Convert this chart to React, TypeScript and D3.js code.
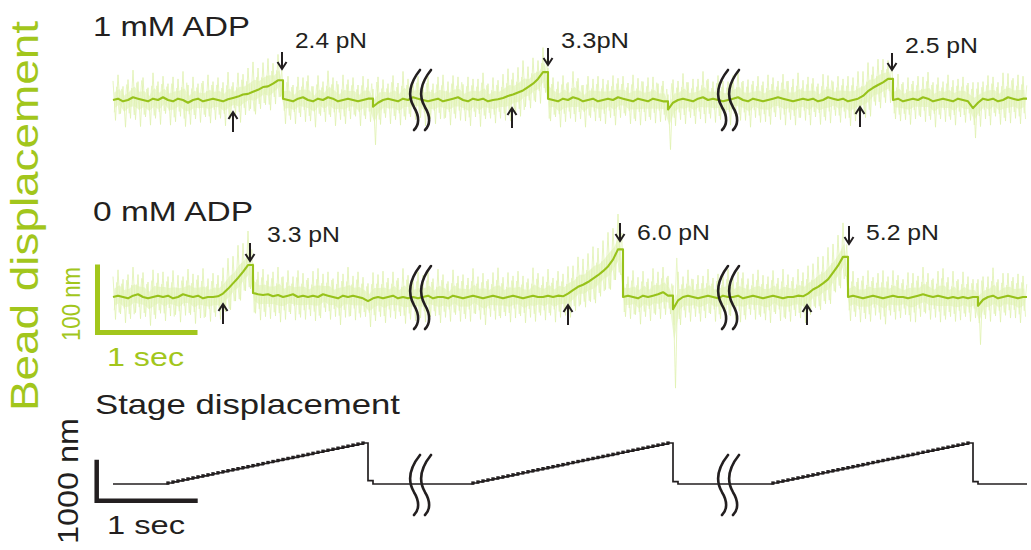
import React from "react";
import * as d3 from "d3";

// ---------- data (sampled every 50 ms, displacement in nm) ----------
const SAMPLE_DT = 0.05;
const TOTAL_T = 9.14;

const row1Mean = [
  0,2,-2,0,4,2,0,-2,2,0,
  4,0,-2,2,0,-4,0,2,-2,0,
  2,0,-2,1,3,5,8,9,12,15,
  19,20,24,29,2,0,-2,2,4,0,
  -2,2,0,4,2,-2,0,2,0,-2,
  0,2,-10,-4,0,2,0,-2,2,0,
  4,2,0,-2,0,2,-2,0,2,4,
  0,-2,2,0,2,-2,0,1,3,6,
  8,11,14,19,24,31,41,2,0,-2,
  2,0,4,2,-2,0,2,-2,0,2,
  0,4,2,0,-2,2,0,-2,2,0,
  -2,-14,-4,0,2,0,-2,2,4,0,
  2,0,-2,0,2,4,0,-2,2,0,
  -2,0,2,4,2,0,-2,0,2,0,
  2,-2,0,4,2,0,2,-2,0,2,
  6,13,18,22,26,31,0,2,-2,0,
  2,0,4,2,-2,0,2,0,-2,2,
  0,-2,-12,-4,2,0,2,-2,0,4,
  2,0,2,
];
const row1NoiseUp = [
  28,35,22,30,40,25,33,20,38,27,
  31,24,36,29,42,26,34,22,30,37,
  25,33,28,40,23,35,30,38,44,32,
  36,41,30,38,27,35,24,32,29,36,
  22,34,27,39,31,25,37,28,33,24,
  35,29,26,38,30,22,36,27,40,31,
  25,33,28,37,24,32,39,27,34,30,
  23,36,29,31,38,26,33,28,35,40,
  32,37,44,30,38,27,36,45,33,29,
  34,26,38,30,24,35,29,37,31,27,
  36,28,33,25,39,30,27,35,32,24,
  30,22,34,28,37,26,33,29,38,31,
  25,36,30,27,34,39,28,32,26,35,
  29,37,31,24,36,28,33,40,27,34,
  30,26,38,32,25,35,29,37,33,40,
  36,42,31,38,34,27,30,36,28,33,
  26,35,30,39,28,33,25,37,31,29,
  34,27,38,30,25,36,32,28,40,35,
  30,37,33,
];
const row1NoiseDown = [
  30,22,38,27,33,41,25,35,29,36,
  24,37,30,26,39,32,28,35,23,34,
  31,27,36,29,24,38,30,22,33,28,
  26,35,30,24,37,29,33,27,36,31,
  38,25,32,29,40,27,35,30,24,36,
  28,34,56,32,26,37,29,35,31,25,
  33,28,38,26,35,30,24,37,29,34,
  31,36,27,39,30,25,34,28,33,37,
  29,35,24,31,27,36,30,33,25,38,
  34,27,36,30,38,26,33,29,35,28,
  37,30,25,35,29,39,31,27,36,32,
  28,59,34,29,37,26,33,30,38,27,
  35,29,31,37,26,34,30,38,28,33,
  30,36,27,33,39,29,35,26,32,37,
  27,34,30,38,25,33,29,36,31,28,
  32,37,26,34,30,35,28,33,27,36,
  30,25,36,31,38,28,34,29,35,27,
  33,28,44,35,30,37,26,34,31,38,
  29,35,30,
];

const row2Mean = [
  0,2,0,-2,2,4,0,-2,0,2,
  0,2,-2,0,4,2,0,2,-2,0,
  0,1,5,12,20,28,37,47,6,4,
  3,4,1,3,0,2,4,0,2,0,
  2,0,4,2,0,-2,2,0,2,0,
  -2,-6,-2,0,-2,0,2,-2,0,-2,
  0,-2,0,2,-2,0,0,-2,2,0,
  -2,0,2,0,-2,0,2,0,-2,0,
  2,0,-2,0,2,0,0,2,0,2,
  1,5,10,15,18,22,27,32,38,45,
  55,70,0,2,0,-2,2,0,2,4,
  7,2,-18,-5,0,2,0,-2,0,2,
  0,-2,2,0,0,2,-2,0,2,0,
  -2,0,2,0,-2,0,0,2,1,5,
  11,15,20,26,36,46,59,0,2,0,
  -2,0,2,0,-2,0,2,0,0,-2,
  0,2,4,2,0,2,0,-2,0,-2,
  0,-2,0,-13,-4,0,2,-2,0,2,
  0,-2,0,
];
const row2NoiseUp = [
  30,38,26,35,42,29,36,24,40,33,
  37,28,41,32,26,39,34,30,44,27,
  35,31,38,45,40,48,42,50,44,33,
  38,29,36,41,30,37,26,39,33,28,
  36,42,30,35,27,39,32,44,29,37,
  31,26,38,33,40,28,35,30,42,34,
  27,39,32,36,29,41,33,25,38,31,
  35,28,40,30,37,26,34,43,31,36,
  29,38,33,27,41,35,30,39,28,36,
  33,40,36,44,38,42,47,40,45,50,
  46,52,34,28,39,31,36,27,40,33,
  37,29,35,42,30,38,26,34,31,39,
  28,36,33,41,29,35,38,27,32,40,
  34,30,37,28,43,33,29,39,35,41,
  38,44,40,47,42,45,50,30,36,28,
  33,39,27,35,41,30,37,32,26,38,
  35,29,40,33,27,36,42,31,38,28,
  37,32,26,39,34,30,41,28,35,33,
  29,36,31,
];
const row2NoiseDown = [
  33,27,38,30,25,36,29,40,32,26,
  35,30,24,37,31,28,39,33,27,36,
  29,34,27,31,26,33,28,35,30,38,
  32,36,29,40,33,27,38,30,35,28,
  37,31,26,35,29,39,32,28,36,30,
  27,38,33,29,36,30,34,26,39,31,
  35,29,37,31,26,38,30,34,28,36,
  30,36,27,33,39,29,35,31,26,37,
  33,28,36,30,38,27,34,29,37,32,
  28,35,30,26,33,29,36,31,27,34,
  30,37,29,34,26,38,31,35,28,36,
  33,27,116,36,30,38,29,34,31,27,
  36,30,37,28,33,39,31,26,35,29,
  32,38,27,35,30,36,28,33,39,31,
  27,34,30,36,29,33,28,35,31,37,
  30,36,29,33,38,27,35,31,26,34,
  37,31,28,35,30,39,33,27,36,32,
  29,34,31,57,28,36,30,35,27,33,
  31,36,29,
];

// stage position (nm), same 50 ms sampling
const stageNm = [
  0,0,0,0,0,0,0,0,0,0,0,
  25,50,75,100,125,150,175,200,225,250,275,300,325,350,375,400,425,450,475,500,
  525,550,575,600,625,650,675,700,725,750,775,800,825,850,875,900,925,950,975,1000,
  80,
  0,0,0,0,0,0,0,0,0,0,0,0,0,0,0,0,0,0,0,0,
  25,50,75,100,125,150,175,200,225,250,275,300,325,350,375,400,425,450,475,500,
  525,550,575,600,625,650,675,700,725,750,775,800,825,850,875,900,925,950,975,1000,
  60,
  0,0,0,0,0,0,0,0,0,0,0,0,0,0,0,0,0,0,0,
  25,50,75,100,125,150,175,200,225,250,275,300,325,350,375,400,425,450,475,500,
  525,550,575,600,625,650,675,700,725,750,775,800,825,850,875,900,925,950,975,1000,
  60,
  0,0,0,0,0,0,0,0,0,0,
];

const rowTitles = ["1 mM ADP", "0 mM ADP"];
const row1Forces = ["2.4 pN", "3.3pN", "2.5 pN"];
const row2Forces = ["3.3 pN", "6.0 pN", "5.2 pN"];
const row1AttachT = [1.2, 3.99, 7.47];
const row1DetachT = [1.69, 4.35, 7.79];
const row2AttachT = [1.1, 4.55, 6.94];
const row2DetachT = [1.37, 5.07, 7.36];
const breakT = [3.07, 6.15];

const beadBarNm = 100;
const stageBarNm = 1000;
const barSec = 1;

// ---------- styles ----------
const GREEN_TEXT = "#a2c61c";
const GREEN_MEAN = "#97c21a";
const GREEN_NOISE = "#dff1ae";
const GREEN_NOISE2 = "#e6f5c2";
const GREEN_CORE = "#ecf7d3";
const INK = "#231f20";
const FONT = "'Liberation Sans', Arial, Helvetica, sans-serif";

const x = d3.scaleLinear().domain([0, 9.1]).range([113, 1023]);
const yRow1 = d3.scaleLinear().domain([0, 100]).range([100, 32]);
const yRow2 = d3.scaleLinear().domain([0, 100]).range([297, 229]);
const yStage = d3.scaleLinear().domain([0, 1000]).range([484, 443]);

type P = [number, number];

// linear trace, but sudden detachments are drawn as vertical drops
function tracePoints(vals: number[]): P[] {
  const pts: P[] = [];
  vals.forEach((v, i) => {
    const t = i * SAMPLE_DT;
    if (i > 0 && vals[i - 1] - v > 10) pts.push([t, vals[i - 1]]);
    pts.push([t, v]);
  });
  pts.push([TOTAL_T, vals[vals.length - 1]]);
  return pts;
}

function stepPoints(vals: number[]): P[] {
  const pts: P[] = vals.map((v, i) => [i * SAMPLE_DT, v]);
  pts.push([TOTAL_T, vals[vals.length - 1]]);
  return pts;
}

function BeadTrace({ mean, up, down, y }: { mean: number[]; up: number[]; down: number[]; y: d3.ScaleLinear<number, number> }) {
  const core = d3
    .area<number>()
    .x((_, i) => x(i * SAMPLE_DT + SAMPLE_DT / 4))
    .y0((m, i) => y(m - 0.4 * down[i]))
    .y1((m, i) => y(m + 0.4 * up[i]))(mean) as string;
  const zz: P[] = [];
  const zz2: P[] = [];
  mean.forEach((m, i) => {
    zz.push([x(i * SAMPLE_DT), y(m + up[i])]);
    zz.push([x(i * SAMPLE_DT + SAMPLE_DT / 2), y(m - down[i])]);
    zz2.push([x(i * SAMPLE_DT + SAMPLE_DT / 4), y(m - 0.65 * up[i])]);
    zz2.push([x(i * SAMPLE_DT + (3 * SAMPLE_DT) / 4), y(m + 0.65 * down[i])]);
  });
  const zig = d3.line()(zz) as string;
  const zig2 = d3.line()(zz2) as string;
  const meanPath = d3
    .line<P>()
    .x((d) => x(d[0]))
    .y((d) => y(d[1]))(tracePoints(mean)) as string;
  return (
    <g>
      <path d={core} fill={GREEN_CORE} stroke="none" />
      <path d={zig2} fill="none" stroke={GREEN_NOISE2} strokeWidth={0.9} />
      <path d={zig} fill="none" stroke={GREEN_NOISE} strokeWidth={0.8} />
      <path d={meanPath} fill="none" stroke={GREEN_MEAN} strokeWidth={2.1} strokeLinejoin="round" />
    </g>
  );
}

function StageTrace() {
  const pts = stepPoints(stageNm);
  const d = d3
    .line<P>()
    .x((p) => x(p[0]))
    .y((p) => yStage(p[1]))
    .curve(d3.curveStepAfter)(pts) as string;
  const dots = stageNm
    .map((v, i) => ({ v, i }))
    .filter(({ v, i }) => i > 0 && v > stageNm[i - 1]);
  return (
    <g>
      <path d={d} fill="none" stroke={INK} strokeWidth={1.7} />
      {dots.map(({ v, i }) => (
        <rect key={i} x={x(i * SAMPLE_DT) - 1.7} y={yStage(v) - 1.6} width={3.4} height={3.2} fill={INK} />
      ))}
    </g>
  );
}

function Arrow({ cx, top, bottom, dir }: { cx: number; top: number; bottom: number; dir: "up" | "down" }) {
  const tip = dir === "down" ? bottom : top;
  const s = dir === "down" ? -1 : 1;
  return (
    <g stroke={INK} strokeWidth={2} fill="none" strokeLinecap="butt">
      <line x1={cx} x2={cx} y1={top} y2={bottom} />
      <path d={`M${cx - 4.5},${tip + s * 7} L${cx},${tip} L${cx + 4.5},${tip + s * 7}`} strokeLinejoin="miter" />
    </g>
  );
}

function BreakMark({ t, y0, y1 }: { t: number; y0: number; y1: number }) {
  const cx = x(t);
  const h = y1 - y0;
  const one = (c: number) =>
    `M${c + 5},${y0} C${c - 7},${y0 + h * 0.25} ${c - 7},${y0 + h * 0.45} ${c - 1},${y0 + h * 0.62} C${c + 5},${y0 + h * 0.78} ${c + 4},${y0 + h * 0.92} ${c - 1},${y1}`;
  return (
    <g fill="none" stroke={INK} strokeWidth={2.6} strokeLinecap="round">
      <path d={one(cx - 5)} />
      <path d={one(cx + 6)} />
    </g>
  );
}

function Label({ x0, y0, text, size, len, fill = INK }: { x0: number; y0: number; text: string; size: number; len?: number; fill?: string }) {
  return (
    <text x={x0} y={y0} fontSize={size} fontFamily={FONT} fill={fill} textLength={len} lengthAdjust="spacingAndGlyphs">
      {text}
    </text>
  );
}

export default function App() {
  const downTops1 = [52, 48, 53];
  const upTops1 = [112, 108, 107];
  const labelY1 = [48, 48, 53];
  const downTops2 = [243, 223, 226];
  const upTops2 = [304, 305, 305];
  const labelY2 = [242, 240, 240];
  const forceLen = [72, 68, 73];
  const barW = x(barSec) - x(0);
  const beadBarH = yRow2(0) - yRow2(beadBarNm);
  const stageBarH = yStage(0) - yStage(stageBarNm);

  return (
    <svg width={1031} height={550} style={{ position: "absolute", left: 0, top: 0, background: "#fff" }}>
      <rect width={1031} height={550} fill="#fff" />

      {/* traces */}
      <BeadTrace mean={row1Mean} up={row1NoiseUp} down={row1NoiseDown} y={yRow1} />
      <BeadTrace mean={row2Mean} up={row2NoiseUp} down={row2NoiseDown} y={yRow2} />
      <StageTrace />

      {/* axis breaks */}
      {breakT.map((t) => (
        <g key={t}>
          <BreakMark t={t} y0={70} y1={130} />
          <BreakMark t={t} y0={266} y1={329} />
          <BreakMark t={t} y0={455} y1={515} />
        </g>
      ))}

      {/* annotations */}
      {row1Forces.map((f, k) => (
        <g key={"r1" + k}>
          <Arrow cx={x(row1DetachT[k])} top={downTops1[k]} bottom={downTops1[k] + 17} dir="down" />
          <Arrow cx={x(row1AttachT[k])} top={upTops1[k]} bottom={upTops1[k] + 20} dir="up" />
          <Label x0={x(row1DetachT[k]) + 13} y0={labelY1[k]} text={f} size={22} len={forceLen[k]} />
        </g>
      ))}
      {row2Forces.map((f, k) => (
        <g key={"r2" + k}>
          <Arrow cx={x(row2DetachT[k])} top={downTops2[k]} bottom={downTops2[k] + 18} dir="down" />
          <Arrow cx={x(row2AttachT[k])} top={upTops2[k]} bottom={upTops2[k] + 20} dir="up" />
          <Label x0={x(row2DetachT[k]) + 17} y0={labelY2[k]} text={f} size={22} len={73} />
        </g>
      ))}

      {/* titles */}
      <Label x0={93} y0={36} text={rowTitles[0]} size={28} len={157} />
      <Label x0={93} y0={221} text={rowTitles[1]} size={28} len={160} />
      <Label x0={95} y0={414} text="Stage displacement" size={28} len={305} />

      {/* bead scale bar */}
      <path
        d={`M97.5,${332.5 - beadBarH} V332.5 H${97.5 + barW}`}
        fill="none"
        stroke={GREEN_TEXT}
        strokeWidth={5}
        strokeLinejoin="miter"
      />
      <Label x0={107} y0={366} text={`${barSec} sec`} size={25} len={77} fill={GREEN_TEXT} />
      <text
        transform="translate(80,341) rotate(-90)"
        fontSize={25}
        fontFamily={FONT}
        fill={GREEN_TEXT}
        textLength={74}
        lengthAdjust="spacingAndGlyphs"
      >
        {`${beadBarNm} nm`}
      </text>
      <text
        transform="translate(38,411) rotate(-90)"
        fontSize={38}
        fontFamily={FONT}
        fill={GREEN_TEXT}
        textLength={390}
        lengthAdjust="spacingAndGlyphs"
      >
        Bead displacement
      </text>

      {/* stage scale bar */}
      <path
        d={`M96.7,${500.7 - stageBarH} V500.7 H${96.7 + barW + 1}`}
        fill="none"
        stroke={INK}
        strokeWidth={4.5}
        strokeLinejoin="miter"
      />
      <Label x0={107} y0={534} text={`${barSec} sec`} size={26} len={78} />
      <text
        transform="translate(78,544) rotate(-90)"
        fontSize={30}
        fontFamily={FONT}
        fill={INK}
        textLength={126}
        lengthAdjust="spacingAndGlyphs"
      >
        {`${stageBarNm} nm`}
      </text>
    </svg>
  );
}
